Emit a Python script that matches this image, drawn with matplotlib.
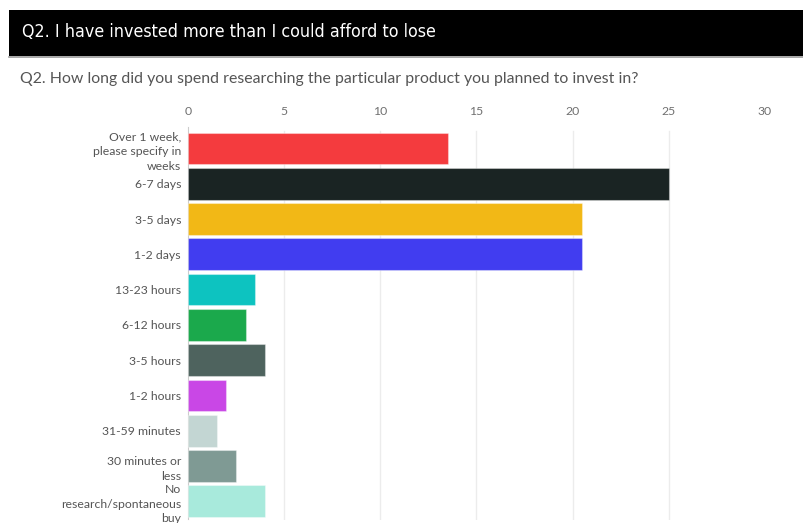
import matplotlib
matplotlib.use("Agg")
import matplotlib.pyplot as plt
from matplotlib.patches import Rectangle
from matplotlib.lines import Line2D

header = "Q2. I have invested more than I could afford to lose"
question = "Q2. How long did you spend researching the particular product you planned to invest in?"

categories = [
    "Over 1 week,\nplease specify in\nweeks",
    "6-7 days",
    "3-5 days",
    "1-2 days",
    "13-23 hours",
    "6-12 hours",
    "3-5 hours",
    "1-2 hours",
    "31-59 minutes",
    "30 minutes or\nless",
    "No\nresearch/spontaneous\nbuy",
]
values = [13.5, 25.0, 20.5, 20.5, 3.5, 3.0, 4.0, 2.0, 1.5, 2.5, 4.0]
colors = [
    "#F43B3E", "#1A2423", "#F2B816", "#413DF0", "#0DC3C0", "#1BA94C",
    "#4E635E", "#C947E6", "#C3D6D3", "#7F9A94", "#A8EADC",
]
x_ticks = [0, 5, 10, 15, 20, 25, 30]

W, H = 804, 523
fig = plt.figure(figsize=(W / 100, H / 100), dpi=100)
fig.patch.set_facecolor("white")

# Black header band with title
fig.patches.append(Rectangle((9 / W, 1 - 56 / H), 1 - 9 / W, 46 / H,
                             transform=fig.transFigure, facecolor="black",
                             edgecolor="none", zorder=0))
fig.lines.append(Line2D([9 / W, 1], [1 - 56.5 / H, 1 - 56.5 / H],
                        transform=fig.transFigure, color="#9a9a9a", lw=1.2))
fig.text(22 / W, 1 - 32 / H, header, color="white", fontsize=12.8,
         family=["DejaVu Sans"], fontstretch="condensed",
         va="center", ha="left")
fig.text(20 / W, 1 - 79 / H, question, color="#555555", fontsize=11.4,
         family=["Lato", "DejaVu Sans"], va="center", ha="left")

# Axes placement in pixels
x0, x1 = 188, 765
y_top, y_bot = 125, 520
ax = fig.add_axes([x0 / W, 1 - y_bot / H, (x1 - x0) / W, (y_bot - y_top) / H])

pos = list(range(len(categories)))
ax.barh(pos, values, height=0.9, color=colors, edgecolor=(1, 1, 1, 0.35),
        linewidth=0.8, zorder=3)

ax.set_xlim(0, 30)
ax.set_ylim(10.533, -0.666)
ax.xaxis.tick_top()
ax.set_xticks(x_ticks)
ax.set_xticklabels([str(t) for t in x_ticks], family=["Lato", "DejaVu Sans"],
                   fontsize=8.8, color="#707070")
ax.tick_params(axis="x", length=0, pad=6)
ax.set_yticks(pos)
ax.set_yticklabels(categories, family=["Lato", "DejaVu Sans"], fontsize=8.8,
                   color="#555555", linespacing=1.42)
ax.tick_params(axis="y", length=0, pad=5)

for t in x_ticks[1:-1]:
    ax.axvline(t, ymin=0.0, ymax=0.985, color="#ececec", lw=1, zorder=1)

for s in ["top", "right", "bottom"]:
    ax.spines[s].set_visible(False)
ax.spines["left"].set_color("#cccccc")
ax.spines["left"].set_bounds(-0.6, 10.5)
ax.set_facecolor("none")

fig.savefig("out.png", dpi=100)
